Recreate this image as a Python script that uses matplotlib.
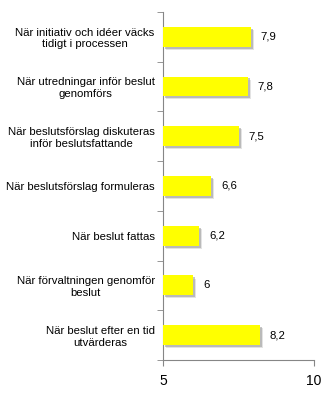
import numpy as np
import matplotlib
matplotlib.use('Agg')
import matplotlib.pyplot as plt
import matplotlib.patheffects as pe

# ── data (top to bottom) ───────────────────────────────────────────────────
categories = [
    "När initiativ och idéer väcks\ntidigt i processen",
    "När utredningar inför beslut\ngenomförs",
    "När beslutsförslag diskuteras\ninför beslutsfattande",
    "När beslutsförslag formuleras",
    "När beslut fattas",
    "När förvaltningen genomför\nbeslut",
    "När beslut efter en tid\nutvärderas",
]
values = [7.9, 7.8, 7.5, 6.6, 6.2, 6.0, 8.2]
value_labels = ["7,9", "7,8", "7,5", "6,6", "6,2", "6", "8,2"]
x_ticks = [5, 10]

plt.rcParams['font.family'] = ['Liberation Sans', 'DejaVu Sans']
AXIS_GREY = '#868686'

fig = plt.figure(figsize=(3.3, 3.95), dpi=100)
ax = fig.add_axes([0.494, 0.0886, 0.458, 0.8814])

y = np.arange(len(categories))
base = 5
bars = ax.barh(y, np.array(values) - base, left=base, height=0.4,
               color='#FFFF00', edgecolor='none', zorder=3)
# soft drop shadow like the spreadsheet original
for b in bars:
    b.set_path_effects([
        pe.SimplePatchShadow(offset=(2.2, -2.2), shadow_rgbFace='#c8c8c8', alpha=0.5),
        pe.SimplePatchShadow(offset=(1.4, -1.4), shadow_rgbFace='#a0a0a0', alpha=0.6),
        pe.Normal()])

for yi, v, lab in zip(y, values, value_labels):
    ax.annotate(lab, (v, yi), xytext=(7, 0), textcoords='offset points',
                va='center', ha='left', fontsize=8.2)

ax.set_xlim(5, 10)
ax.set_ylim(len(categories) - 0.5, -0.5)
ax.set_xticks(x_ticks)
ax.set_xticklabels([str(t) for t in x_ticks], fontsize=10)

ax.set_yticks(y)
ax.set_yticklabels(categories, fontsize=8.2, multialignment='center')
ax.set_yticks(np.arange(len(categories) + 1) - 0.5, minor=True)
ax.tick_params(axis='y', which='major', length=0, pad=6)
ax.tick_params(axis='y', which='minor', length=4, direction='out', color=AXIS_GREY)
ax.tick_params(axis='x', length=4, direction='out', color=AXIS_GREY, pad=6)

for side in ('top', 'right'):
    ax.spines[side].set_visible(False)
for side in ('left', 'bottom'):
    ax.spines[side].set_color(AXIS_GREY)

fig.savefig('out.png', dpi=100)
